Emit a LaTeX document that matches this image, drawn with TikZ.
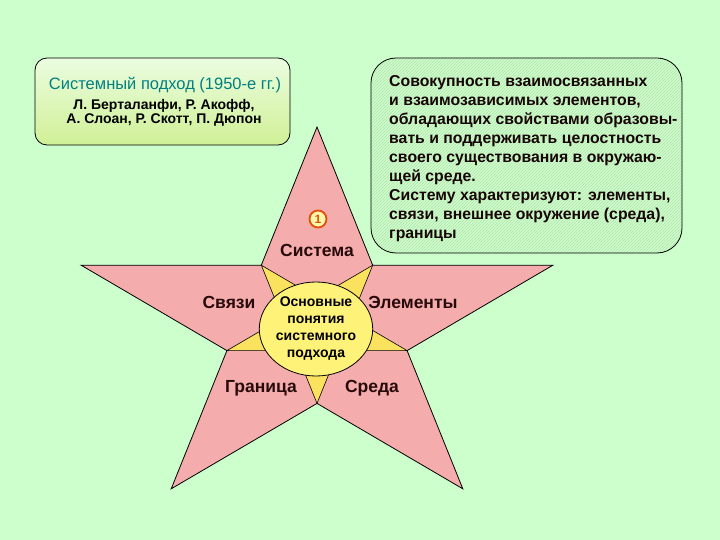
\documentclass[tikz,border=0pt]{standalone}
\usepackage{fontspec}
\setmainfont{Liberation Sans}
\usetikzlibrary{patterns,shapes.geometric}

\definecolor{bggreen}{RGB}{204,255,204}
\definecolor{hatchgreen}{RGB}{182,224,172}
\definecolor{boxtop}{RGB}{234,253,224}
\definecolor{boxbottom}{RGB}{208,240,150}
\definecolor{starpink}{RGB}{245,172,172}
\definecolor{staryellow}{RGB}{250,226,95}
\definecolor{coreyellow}{RGB}{255,242,120}
\definecolor{titleteal}{RGB}{0,128,128}
\definecolor{darktext}{RGB}{40,10,10}
\definecolor{badgered}{RGB}{228,80,10}
\definecolor{badgefill}{RGB}{255,248,170}

\begin{document}
\begin{tikzpicture}[x=1pt,y=-1pt,
    armlabel/.style={font=\fontsize{17.5}{20}\selectfont\bfseries, text=darktext, inner sep=0pt},
    boxtext/.style={inner sep=0pt, text=black}]
    \fill[bggreen] (0,0) rectangle (720,540);
    \useasboundingbox (0,0) rectangle (720,540);

    % boxes
    \draw[rounded corners=12pt, top color=boxtop, bottom color=boxbottom, line width=0.8pt] (35,58) rectangle (290,145);
    \path[pattern=north east lines, pattern color=hatchgreen, rounded corners=25pt] (371,58) rectangle (682,253);
    \draw[rounded corners=25pt, line width=0.8pt] (371,58) rectangle (682,253);

    \node[boxtext, text=titleteal, font=\fontsize{16.5}{18}\selectfont] (approach) at (165,85) {Системный подход (1950-е гг.)};
    \node[boxtext, align=center, font=\fontsize{14}{14.5}\selectfont\bfseries] (authors) at (164,113) {Л. Берталанфи, Р. Акофф,\\А. Слоан, Р. Скотт, П. Дюпон};

    \node[boxtext, anchor=north west, align=left, text=darktext!60!black, font=\fontsize{15.8}{19}\selectfont\bfseries] (definition) at (389,75)
        {Совокупность взаимосвязанных\\
         и взаимозависимых элементов,\\
         обладающих свойствами образовы-\\
         вать и поддерживать целостность\\
         своего существования в окружаю-\\
         щей среде.\\
         Систему характеризуют: элементы,\\
         связи, внешнее окружение (среда),\\
         границы};

    % star
    \filldraw[fill=starpink, draw=black, line width=0.8pt] (317,127) -- (372.7,265.2) -- (552.9,265.2) -- (407.1,350.6) -- (462.8,488.8)
        -- (317,403.4) -- (171.2,488.8) -- (226.9,350.6) -- (81.1,265.2) -- (261.3,265.2) -- cycle;
    \filldraw[fill=staryellow, draw=black, line width=0.6pt] (261.3,265.2) -- (317,297.8) -- (372.7,265.2) -- (351.4,318.0) -- (407.1,350.6)
        -- (338.3,350.6) -- (317,403.4) -- (295.7,350.6) -- (226.9,350.6) -- (282.6,318.0) -- cycle;

    \node[ellipse, draw=black, line width=0.8pt, fill=coreyellow, minimum width=98pt, minimum height=94pt, inner sep=0pt,
        align=center, font=\fontsize{14}{17}\selectfont\bfseries] (core) at (316,329) {Основные\\понятия\\системного\\подхода};

    \node[circle, draw=badgered, line width=1.8pt, fill=badgefill, minimum size=17pt, inner sep=0pt,
        text=badgered, font=\fontsize{12}{12}\selectfont\bfseries] (badge) at (318,219) {1};

    \node[armlabel] (system) at (317,250) {Система};
    \node[armlabel] (links) at (229,302) {Связи};
    \node[armlabel] (elements) at (413,302) {Элементы};
    \node[armlabel] (boundary) at (261,388) {Граница};
    \node[armlabel] (environment) at (372,388) {Среда};
\end{tikzpicture}
\end{document}
